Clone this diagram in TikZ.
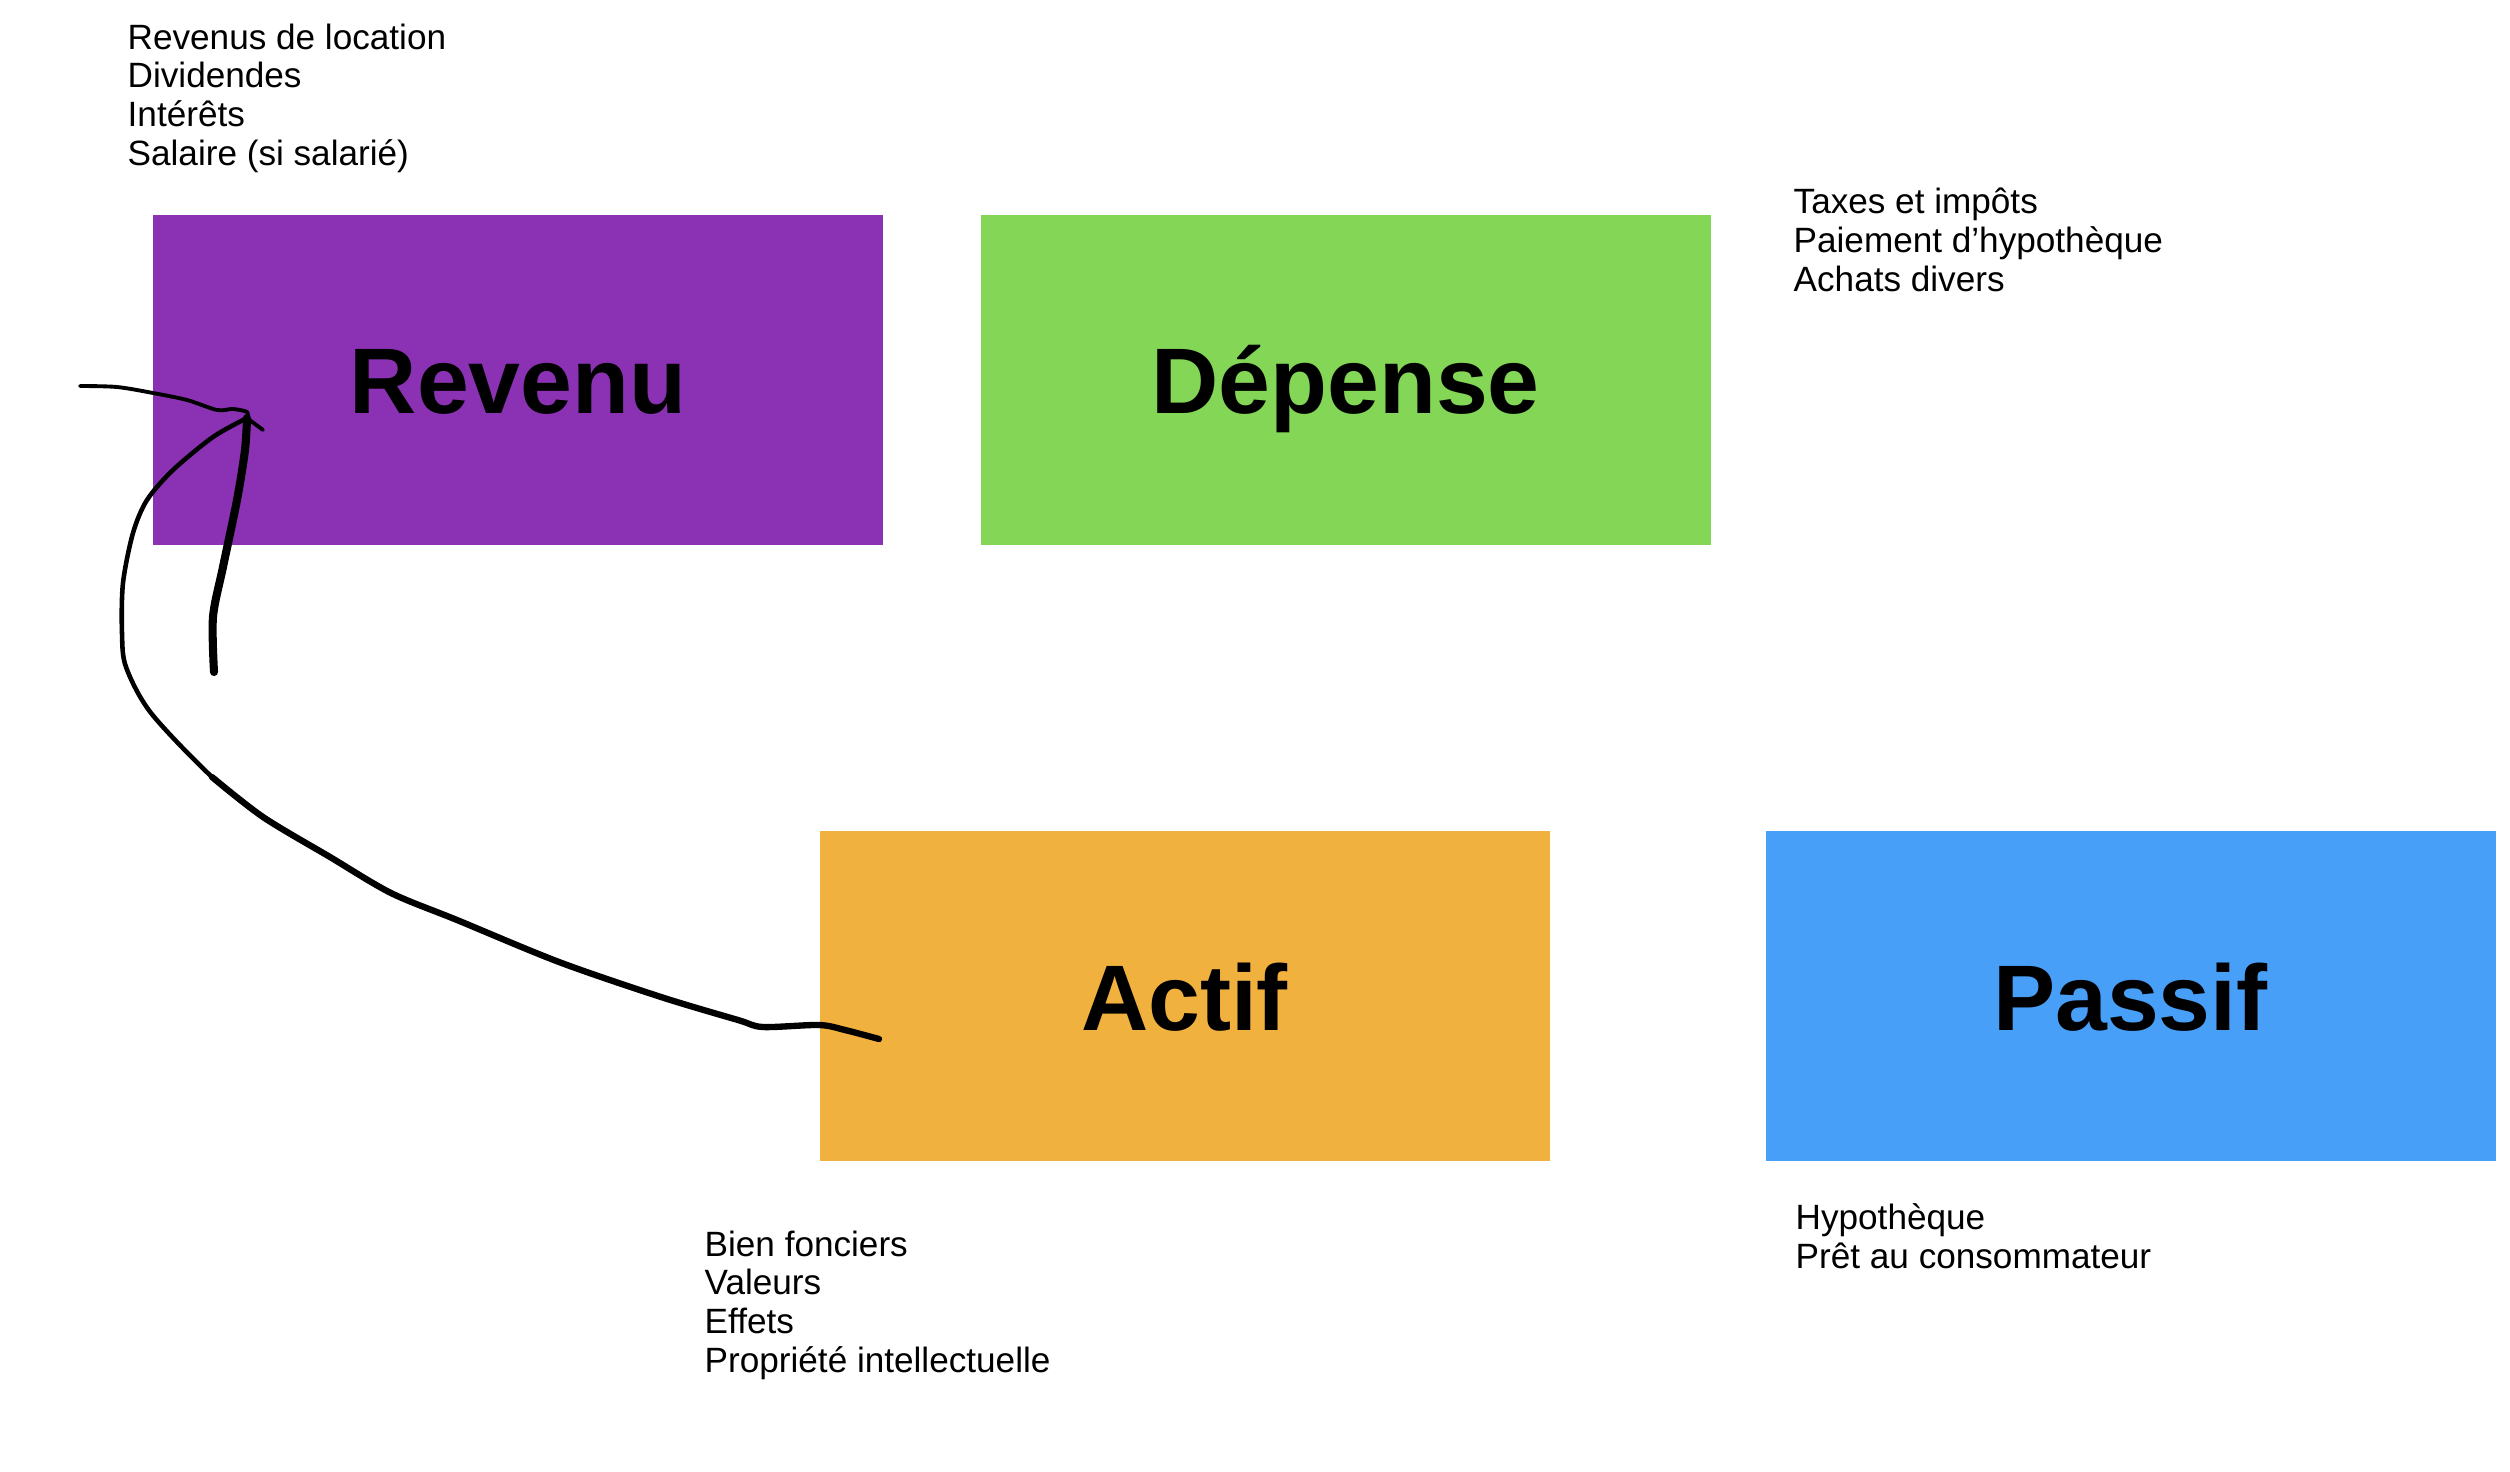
\documentclass[tikz,border=0pt]{standalone}
\usepackage{fontspec}
\setmainfont{Liberation Sans}
\definecolor{violet}{RGB}{139,50,180}
\definecolor{vert}{RGB}{132,214,86}
\definecolor{orange}{RGB}{241,177,63}
\definecolor{bleu}{RGB}{72,159,248}
\begin{document}
\begin{tikzpicture}[%
    bloc/.style={
      rectangle,
      draw=none,
      minimum width=7.3cm,
      minimum height=3.3cm,
      inner sep=0pt,
      text height=0.68cm,
      text depth=0pt,
      font=\bfseries\fontsize{26.5}{30}\selectfont
    },
    note/.style={
      align=left,
      anchor=base west,
      inner sep=0pt,
      font=\fontsize{10}{11}\selectfont
    },
    trait/.style={
      draw,
      line width=1.8pt,
      line cap=round,
      line join=round
    }
  ]
    \useasboundingbox (0,0) rectangle (25.10,-14.72);

    % les quatre blocs
    \node[bloc,fill=violet] (revenu) at (5.18,-3.795) {Revenu};
    \node[bloc,fill=vert] (depense) at (13.455,-3.795) {Dépense};
    \node[bloc,fill=orange] (actif) at (11.845,-9.96) {Actif};
    \node[bloc,fill=bleu] (passif) at (21.305,-9.96) {Passif};

    % les listes (ancre sur la derniere ligne)
    \node[note] (n-revenu) at (1.27,-1.65) {Revenus de location\\Dividendes\\Intérêts\\Salaire (si salarié)};
    \node[note] (n-depense) at (17.93,-2.91) {Taxes et impôts\\Paiement d’hypothèque\\Achats divers};
    \node[note] (n-actif) at (7.04,-13.72) {Bien fonciers\\Valeurs\\Effets\\Propriété intellectuelle};
    \node[note] (n-passif) at (17.95,-12.68) {Hypothèque\\Prêt au consommateur};

    % la fleche dessinee a la main
    \coordinate (sortie) at (8.79,-10.39);
    \coordinate (pointe) at (2.47,-4.18);
    \coordinate (barbe) at (0.80,-3.86);
    \coordinate (barbe2) at (2.63,-4.30);
    \coordinate (pied) at (2.14,-6.72);

    \draw[trait] plot[smooth,tension=0.5] coordinates {(sortie) (8.45,-10.30) (8.19,-10.25)
      (7.63,-10.27) (7.38,-10.20) (6.61,-9.97) (5.59,-9.62) (4.57,-9.20) (3.91,-8.93)
      (3.30,-8.57) (2.63,-8.17) (2.12,-7.77)};
    \draw[trait,line width=1.3pt] plot[smooth,tension=0.5] coordinates {(2.63,-8.17) (2.12,-7.77)
      (1.51,-7.13) (1.26,-6.67) (1.22,-6.33) (1.23,-5.83) (1.33,-5.33) (1.47,-5.00)
      (1.73,-4.70) (2.13,-4.37) (pointe)};
    \draw[trait,line width=1.1pt] plot[smooth,tension=0.5] coordinates {(barbe) (1.17,-3.87)
      (1.53,-3.93) (1.87,-4.00) (2.17,-4.10) (2.33,-4.09) (2.47,-4.12) (pointe)};
    \draw[trait,line width=1.1pt] (pointe) -- (barbe2);
    \draw[trait,line width=2.3pt] plot[smooth,tension=0.5] coordinates {(pied) (2.13,-6.17)
      (2.23,-5.67) (2.37,-5.00) (2.45,-4.50) (pointe)};

  \end{tikzpicture}
\end{document}
